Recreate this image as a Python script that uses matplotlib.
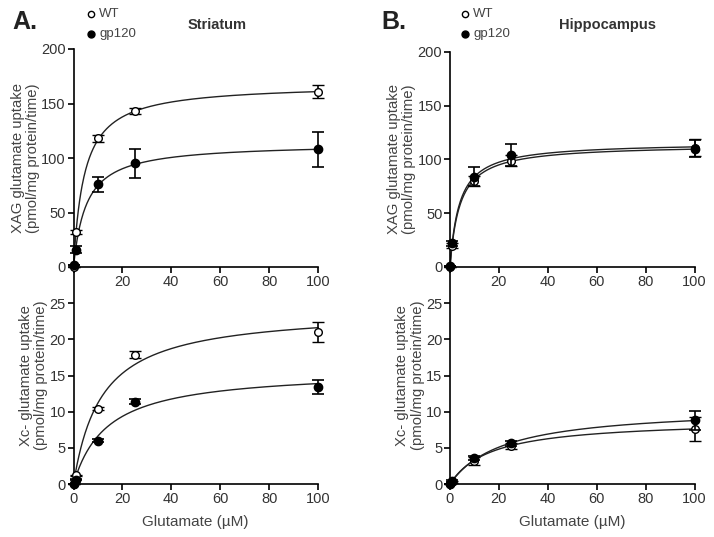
import numpy as np
import matplotlib
matplotlib.use('Agg')
import matplotlib.pyplot as plt

plt.rcParams['font.family'] = ['Liberation Sans', 'DejaVu Sans']

# glutamate concentrations (uM)
conc = [0, 1, 10, 25, 100]

# striatum, XAG uptake
str_xag_wt = [0, 32, 118, 143, 161]
str_xag_wt_err = [0, 2, 3, 3, 6]
str_xag_gp = [2, 16, 76, 95, 108]
str_xag_gp_err = [0, 3, 7, 13, 16]

# hippocampus, XAG uptake
hip_xag_wt = [0, 20, 80, 99, 111]
hip_xag_wt_err = [0, 2, 5, 5, 8]
hip_xag_gp = [1, 22, 84, 104, 110]
hip_xag_gp_err = [0, 2, 9, 10, 8]

# striatum, Xc- uptake
str_xc_wt = [0, 1.2, 10.4, 17.9, 21.0]
str_xc_wt_err = [0, 0.1, 0.2, 0.5, 1.4]
str_xc_gp = [0, 0.6, 6.0, 11.4, 13.4]
str_xc_gp_err = [0, 0.1, 0.2, 0.4, 1.0]

# hippocampus, Xc- uptake
hip_xc_wt = [0, 0.3, 3.2, 5.2, 7.6]
hip_xc_wt_err = [0, 0.1, 0.6, 0.4, 1.6]
hip_xc_gp = [0, 0.4, 3.6, 5.6, 8.8]
hip_xc_gp_err = [0, 0.1, 0.3, 0.4, 1.3]

# Michaelis-Menten fit parameters (Vmax, Km) for the curves
fit_str_xag = {'wt': (168, 4.4), 'gp': (113.6, 5.2)}
fit_hip_xag = {'wt': (114, 4.0), 'gp': (116, 3.8)}
fit_str_xc = {'wt': (24.1, 11.5), 'gp': (15.8, 13.8)}
fit_hip_xc = {'wt': (8.9, 16.9), 'gp': (10.7, 22.0)}

txt = '#333333'
xfit = np.linspace(0, 100, 400)


def mm(x, vmax, km):
    return vmax * x / (km + x)


def style(ax):
    ax.spines['top'].set_visible(False)
    ax.spines['right'].set_visible(False)
    for s in ['left', 'bottom']:
        ax.spines[s].set_linewidth(1.2)
    ax.tick_params(direction='out', length=4, width=1.2, labelsize=10.5, pad=1.5,
                   colors='black', labelcolor=txt)


def draw(ax, wt, wt_err, gp, gp_err, fit):
    for key in ['wt', 'gp']:
        vmax, km = fit[key]
        ax.plot(xfit, mm(xfit, vmax, km), color='#222222', lw=1.0, clip_on=False, zorder=2)
    ax.errorbar(conc, wt, yerr=wt_err, fmt='o', ms=5.5, mfc='white', mec='black', mew=1,
                ecolor='black', elinewidth=1.2, capsize=4, capthick=1.2, clip_on=False, zorder=3)
    ax.errorbar(conc, gp, yerr=gp_err, fmt='o', ms=6, mfc='black', mec='black',
                ecolor='black', elinewidth=1.2, capsize=4, capthick=1.2, clip_on=False, zorder=4)


fig = plt.figure(figsize=(7.14, 5.37), dpi=100)

W, H = 714.0, 537.0
lefts = [73.5, 450]
width = 244.5

panels = [
    (0, str_xag_wt, str_xag_wt_err, str_xag_gp, str_xag_gp_err, fit_str_xag),
    (1, hip_xag_wt, hip_xag_wt_err, hip_xag_gp, hip_xag_gp_err, fit_hip_xag),
]
for col, wt, wte, gp, gpe, fit in panels:
    top_px = 49 if col == 0 else 52
    ax = fig.add_axes([lefts[col] / W, 1 - 267 / H, width / W, (267 - top_px) / H])
    style(ax)
    draw(ax, wt, wte, gp, gpe, fit)
    ax.set_xlim(0, 100)
    ax.set_ylim(0, 200)
    ax.set_xticks([0, 20, 40, 60, 80, 100])
    ax.set_xticklabels(['', '20', '40', '60', '80', '100'])
    ax.set_yticks([0, 50, 100, 150, 200])
    ax.set_ylabel('XAG glutamate uptake\n(pmol/mg protein/time)', fontsize=10.7, color='#444444',
                  linespacing=1.1, labelpad=1)

panels = [
    (0, str_xc_wt, str_xc_wt_err, str_xc_gp, str_xc_gp_err, fit_str_xc),
    (1, hip_xc_wt, hip_xc_wt_err, hip_xc_gp, hip_xc_gp_err, fit_hip_xc),
]
for col, wt, wte, gp, gpe, fit in panels:
    ax = fig.add_axes([lefts[col] / W, 1 - 484 / H, width / W, (484 - 267) / H])
    style(ax)
    draw(ax, wt, wte, gp, gpe, fit)
    ax.set_xlim(0, 100)
    ax.set_ylim(0, 30)
    ax.set_xticks([0, 20, 40, 60, 80, 100])
    ax.set_yticks([0, 5, 10, 15, 20, 25])
    ax.set_ylabel('Xc- glutamate uptake\n(pmol/mg protein/time)', fontsize=10.7, color='#444444',
                  linespacing=1.1, labelpad=1)
    ax.set_xlabel('Glutamate (\u00b5M)', fontsize=11, color='#444444', labelpad=7)
    ax.set_zorder(-1)

# panel letters, titles and legends
for lx, letter, mx, title, tx in [(12, 'A.', 91, 'Striatum', 217), (381, 'B.', 465, 'Hippocampus', 607)]:
    fig.text(lx / W, 1 - 29 / H, letter, fontsize=18, fontweight='bold', color='#222222')
    fig.text(tx / W, 1 - 25 / H, title, fontsize=10.5, fontweight='bold', color='#333333',
             ha='center', va='center')
    fig.lines.append(plt.Line2D([mx / W], [1 - 14 / H], marker='o', ms=4.5, mfc='white', mec='black',
                                mew=1, transform=fig.transFigure, linestyle='none'))
    fig.lines.append(plt.Line2D([mx / W], [1 - 34 / H], marker='o', ms=5, mfc='black', mec='black',
                                transform=fig.transFigure, linestyle='none'))
    fig.text((mx + 8) / W, 1 - 14 / H, 'WT', fontsize=9.5, color='#444444', va='center')
    fig.text((mx + 8) / W, 1 - 34 / H, 'gp120', fontsize=9.5, color='#444444', va='center')

fig.savefig('out.png', dpi=100)
